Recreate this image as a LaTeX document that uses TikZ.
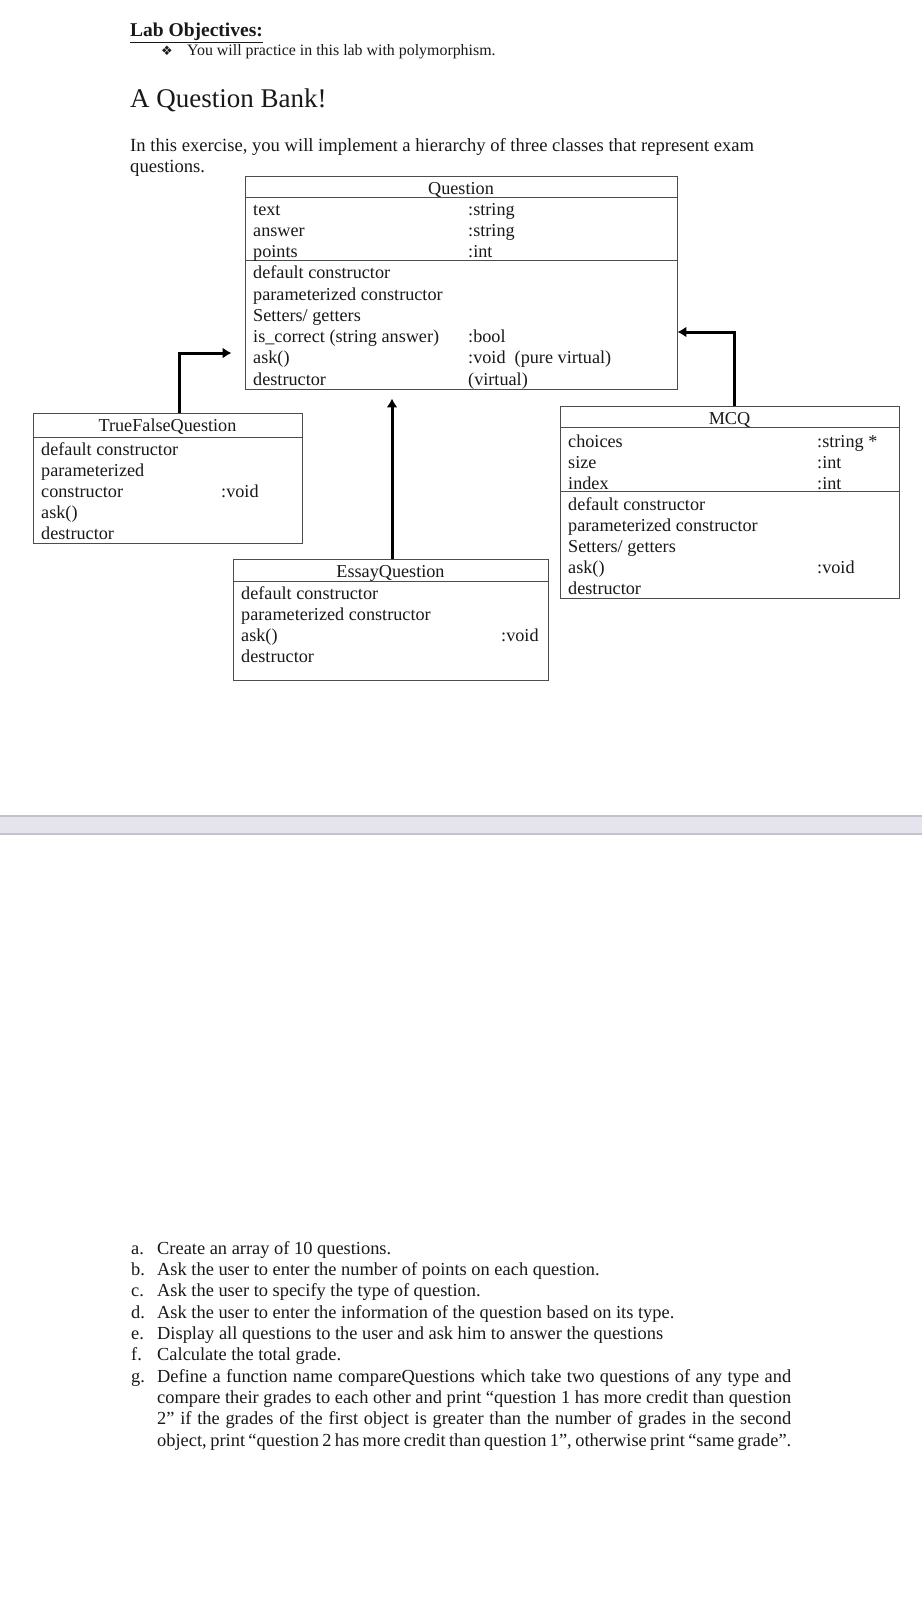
\documentclass[tikz,border=0pt]{standalone}
\usepackage{fontspec}
\setmainfont{Liberation Serif}
\newfontfamily\dingfont{DejaVu Sans}
\usetikzlibrary{arrows.meta,calc}
\definecolor{barfill}{RGB}{229,228,236}
\definecolor{baredge}{RGB}{196,195,205}

\begin{document}
\begin{tikzpicture}[
  x=1pt, y=-1pt,
  font=\fontsize{18.2}{21}\selectfont,
  classbox/.style={draw=black!70, line width=0.9pt, inner sep=0pt},
  compart/.style={draw=black!70, line width=0.9pt},
  row/.style={anchor=base west, inner sep=0pt, text=black!90},
  head/.style={anchor=base, inner sep=0pt, text=black!90},
  arrow/.style={line width=3pt, -{Latex[length=9pt,width=11pt]}},
  item/.style={anchor=base west, inner sep=0pt, text=black!90, font=\fontsize{18.4}{21}\selectfont}
]
\useasboundingbox[fill=white] (0,0) rectangle (922,1600);

% page header
\node[row, font=\fontsize{19.5}{22}\selectfont\bfseries] (labobj) at (130,37) {\underline{Lab Objectives:}};
\node[row, font=\dingfont\fontsize{13}{15}\selectfont] (bullet) at (161,56) {❖};
\node[row, font=\fontsize{15.9}{19}\selectfont] (practice) at (187,56) {You will practice in this lab with polymorphism.};
\node[row, font=\fontsize{27}{31}\selectfont] (title) at (130,108) {A Question Bank!};
\node[row, font=\fontsize{18.6}{21}\selectfont] (intro1) at (130,151) {In this exercise, you will implement a hierarchy of three classes that represent exam};
\node[row, font=\fontsize{18.6}{21}\selectfont] (intro2) at (130,172) {questions.};

% base class
\node[classbox, minimum width=432pt, minimum height=213pt] (question) at (461,282.5) {};
\draw[compart] ([yshift=-22pt]question.north west) -- ([yshift=-22pt]question.north east);
\draw[compart] ([yshift=-85pt]question.north west) -- ([yshift=-85pt]question.north east);
\node[head] (questionname) at (461,194) {Question};
\foreach \txt [count=\i] in {text,answer,points,default constructor,parameterized constructor,Setters/ getters,is\_correct (string answer),ask(),destructor}
  \node[row] (qrow\i) at (253,{193.75+21.25*\i}) {\txt};
\foreach \i/\t in {1/:string,2/:string,3/:int,7/:bool,8/{:void\ \ (pure virtual)},9/(virtual)}
  \node[row] (qtype\i) at (468,{193.75+21.25*\i}) {\t};

% TrueFalseQuestion
\node[classbox, minimum width=269pt, minimum height=130pt] (tf) at (167.5,478) {};
\draw[compart] ([yshift=-25pt]tf.north west) -- ([yshift=-25pt]tf.north east);
\node[head] (tfname) at (167.5,431) {TrueFalseQuestion};
\foreach \txt [count=\i] in {default constructor,parameterized,constructor,ask(),destructor}
  \node[row] (tfrow\i) at (41,{434+21*\i}) {\txt};
\node[row] (tftype) at (221,497) {:void};

% MCQ
\node[classbox, minimum width=339pt, minimum height=192pt] (mcq) at (729.5,502) {};
\draw[compart] ([yshift=-22pt]mcq.north west) -- ([yshift=-22pt]mcq.north east);
\draw[compart] ([yshift=-86pt]mcq.north west) -- ([yshift=-86pt]mcq.north east);
\node[head] (mcqname) at (729.5,424) {MCQ};
\foreach \txt [count=\i] in {choices,size,index,default constructor,parameterized constructor,Setters/ getters,ask(),destructor}
  \node[row] (mcqrow\i) at (568,{426+21*\i}) {\txt};
\foreach \i/\t in {1/:string *,2/:int,3/:int,7/:void}
  \node[row] (mcqtype\i) at (817,{426+21*\i}) {\t};

% EssayQuestion
\node[classbox, minimum width=315pt, minimum height=121pt] (essay) at (390.5,619.5) {};
\draw[compart] ([yshift=-23pt]essay.north west) -- ([yshift=-23pt]essay.north east);
\node[head] (essayname) at (390.5,577) {EssayQuestion};
\foreach \txt [count=\i] in {default constructor,parameterized constructor,ask(),destructor}
  \node[row] (essayrow\i) at (241,{578+21*\i}) {\txt};
\node[row] (essaytype) at (501,641) {:void};

% inheritance
\coordinate (tfknee) at (179,353);
\draw[arrow, shorten >=13pt] (tf.north -| tfknee) -- (tfknee) -- (tfknee -| question.west);
\draw[arrow, shorten >=9pt] ([xshift=1.5pt]essay.north) -- ([xshift=1.5pt]essay.north |- question.south);
\coordinate (mcqknee) at (734,332);
\draw[arrow] (mcq.north -| mcqknee) -- (mcqknee) -- (mcqknee -| question.east);

% page break bar
\node[fill=barfill, minimum width=922pt, minimum height=18pt, inner sep=0pt] (divider) at (461,825) {};
\draw[baredge, line width=1.5pt] (divider.north west) -- (divider.north east);
\draw[baredge, line width=1.5pt] (divider.south west) -- (divider.south east);

% tasks
\foreach \lt/\txt [count=\i from 0] in {a/{Create an array of 10 questions.},b/{Ask the user to enter the number of points on each question.},c/{Ask the user to specify the type of question.},d/{Ask the user to enter the information of the question based on its type.},e/{Display all questions to the user and ask him to answer the questions},f/{Calculate the total grade.}}
{
  \node[item] (mark\lt) at (131,{1254+21.33*\i}) {\lt.};
  \node[item] (task\lt) at (157,{1254+21.33*\i}) {\txt};
}
\node[item] (markg) at (131,1382) {g.};
\node[item] (taskg1) at (157,1382) {\makebox[634pt][s]{Define a function name compareQuestions which take two questions of any type and}};
\node[item] (taskg2) at (157,1403.3) {\makebox[634pt][s]{compare their grades to each other and print “question 1 has more credit than question}};
\node[item] (taskg3) at (157,1424.7) {\makebox[634pt][s]{2” if the grades of the first object is greater than the number of grades in the second}};
\node[item] (taskg4) at (157,1446) {\makebox[634pt][s]{object, print “question 2 has more credit than question 1”, otherwise print “same grade”.}};

\end{tikzpicture}
\end{document}
